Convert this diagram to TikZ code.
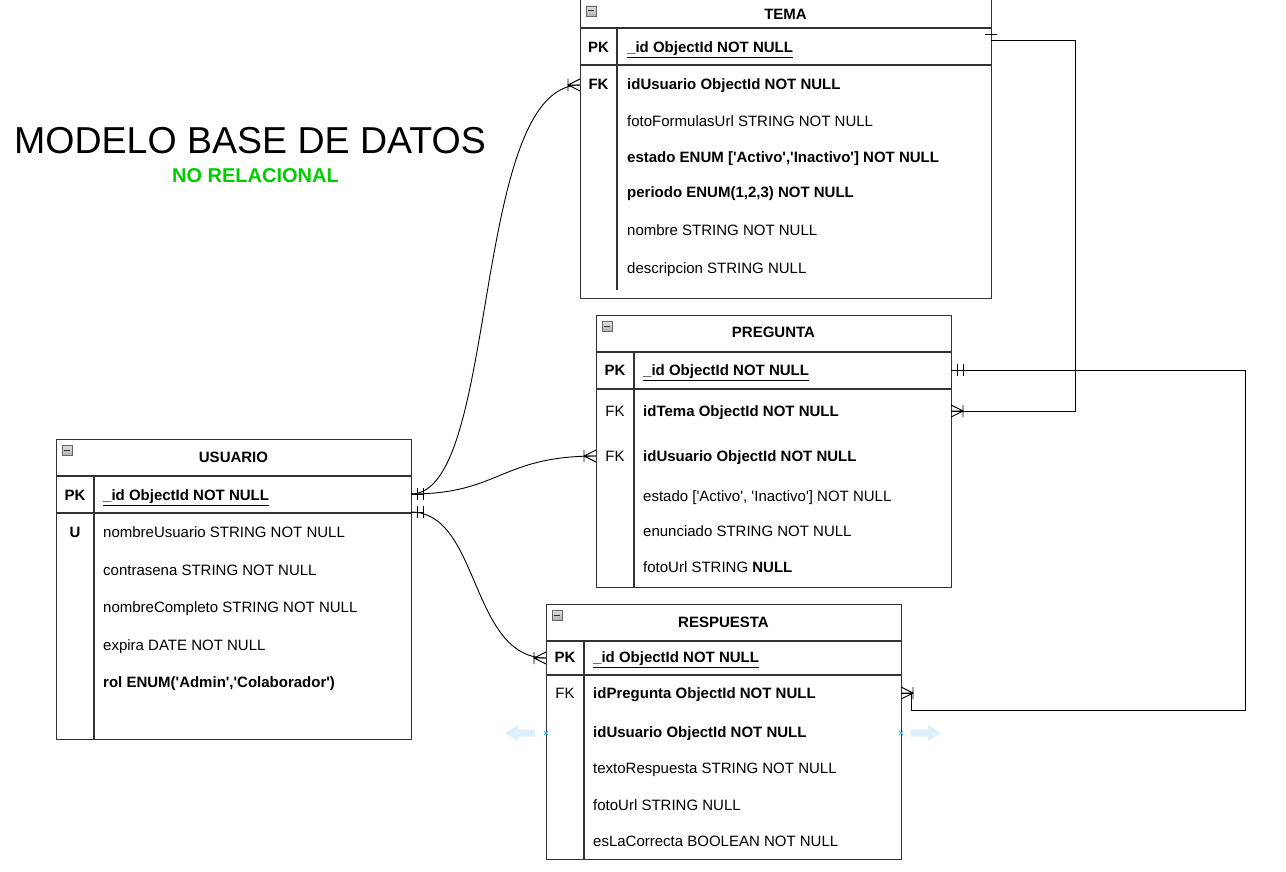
\documentclass[tikz,border=0pt]{standalone}
\usepackage{fontspec}
\setmainfont{Liberation Sans}
\setmonofont{Liberation Sans}
\newcommand\bodyfs{\ttfamily\fontsize{15}{17}\selectfont}
\definecolor{lineclr}{HTML}{333333}
\definecolor{greenclr}{HTML}{00CC00}
\definecolor{hintblue}{HTML}{DCEFFA}
\definecolor{xblue}{HTML}{29B6F2}
\tikzset{
  tbl/.style={draw=lineclr, line width=1.1pt, fill=white, inner sep=0pt, anchor=north west},
  sep/.style={draw=lineclr, line width=1.1pt},
  txt/.style={anchor=west, inner sep=0pt, text height=10.5pt, text depth=0pt, font=\bodyfs},
  keytxt/.style={anchor=center, inner sep=0pt, text height=10.5pt, text depth=0pt, font=\bodyfs},
  hdr/.style={anchor=center, inner sep=0pt, text height=10.5pt, text depth=0pt, font=\bodyfs\bfseries},
  conn/.style={draw=black, line width=0.9pt},
  crowfoot/.pic={\draw[black, line width=0.9pt] (0,-6)--(-12,0)--(0,6) (-12,-6)--(-12,6) (-12,0)--(0,0);},
  mone/.pic={\draw[black, line width=0.9pt] (-6,-6)--(-6,6) (-12,-6)--(-12,6) (-12,0)--(0,0);},
  collapse/.pic={\draw[draw=gray!80!black, top color=gray!25, bottom color=gray!60, line width=0.6pt] (0,0) rectangle (10,10);
                 \draw[black!80, line width=1pt] (2,5)--(8,5);}
}
\begin{document}
\begin{tikzpicture}[x=1pt,y=-1pt]
\useasboundingbox (0,0) rectangle (1286,872);
\fill[white] (0,0) rectangle (1286,872);

% Title
\node[inner sep=0pt, font=\fontsize{37.5}{42}\selectfont, anchor=center] (title) at (250,141) {MODELO BASE DE DATOS};
\node[inner sep=0pt, font=\fontsize{20}{23}\selectfont\bfseries, text=greenclr, anchor=center] (subtitle) at (255.5,176) {NO RELACIONAL};

% ===== TEMA =====
\node[tbl, minimum width=411pt, minimum height=299pt] (tema) at (580,-1) {};
\draw[sep] (580,28) -- (991,28) (580,65) -- (991,65) (617,28) -- (617,290);
\pic at (586,6) {collapse};
\node[hdr] (temaH) at (785.5,14) {TEMA};
\node[keytxt, font=\bodyfs\bfseries] (temaK1) at (598.5,47) {PK};
\node[txt, font=\bodyfs\bfseries] (temaR1) at (627,47) {\underline{\_id ObjectId NOT NULL}};
\node[keytxt, font=\bodyfs\bfseries] (temaK2) at (598.5,84) {FK};
\node[txt, font=\bodyfs\bfseries] (temaR2) at (627,84) {idUsuario ObjectId NOT NULL};
\node[txt] (temaR3) at (627,121) {fotoFormulasUrl STRING NOT NULL};
\node[txt, font=\bodyfs\bfseries] (temaR4) at (627,157) {estado ENUM ['Activo','Inactivo'] NOT NULL};
\node[txt, font=\bodyfs\bfseries] (temaR5) at (627,192) {periodo ENUM(1,2,3) NOT NULL};
\node[txt] (temaR6) at (627,230) {nombre STRING NOT NULL};
\node[txt] (temaR7) at (627,268) {descripcion STRING NULL};

% ===== PREGUNTA =====
\node[tbl, minimum width=355pt, minimum height=272pt] (preg) at (596,315) {};
\draw[sep] (596,352) -- (951,352) (596,389) -- (951,389) (634,352) -- (634,587);
\pic at (602,321) {collapse};
\node[hdr] (pregH) at (773.5,332) {PREGUNTA};
\node[keytxt, font=\bodyfs\bfseries] (pregK1) at (615,370) {PK};
\node[txt, font=\bodyfs\bfseries] (pregR1) at (643,370) {\underline{\_id ObjectId NOT NULL}};
\node[keytxt] (pregK2) at (615,411) {FK};
\node[txt, font=\bodyfs\bfseries] (pregR2) at (643,411) {idTema ObjectId NOT NULL};
\node[keytxt] (pregK3) at (615,456) {FK};
\node[txt, font=\bodyfs\bfseries] (pregR3) at (643,456) {idUsuario ObjectId NOT NULL};
\node[txt] (pregR4) at (643,496) {estado ['Activo', 'Inactivo'] NOT NULL};
\node[txt] (pregR5) at (643,531) {enunciado STRING NOT NULL};
\node[txt] (pregR6) at (643,567) {fotoUrl STRING \textbf{NULL}};

% ===== USUARIO =====
\node[tbl, minimum width=355pt, minimum height=300pt] (usu) at (56,439) {};
\draw[sep] (56,476) -- (411,476) (56,513) -- (411,513) (94,476) -- (94,739);
\pic at (62,445) {collapse};
\node[hdr] (usuH) at (233.5,457) {USUARIO};
\node[keytxt, font=\bodyfs\bfseries] (usuK1) at (75,495) {PK};
\node[txt, font=\bodyfs\bfseries] (usuR1) at (103,495) {\underline{\_id ObjectId NOT NULL}};
\node[keytxt, font=\bodyfs\bfseries] (usuK2) at (75,532) {U};
\node[txt] (usuR2) at (103,532) {nombreUsuario STRING NOT NULL};
\node[txt] (usuR3) at (103,570) {contrasena STRING NOT NULL};
\node[txt] (usuR4) at (103,607) {nombreCompleto STRING NOT NULL};
\node[txt] (usuR5) at (103,645) {expira DATE NOT NULL};
\node[txt, font=\bodyfs\bfseries] (usuR6) at (103,682) {rol ENUM('Admin','Colaborador')};

% ===== RESPUESTA =====
\node[tbl, minimum width=355pt, minimum height=255pt] (resp) at (546,604) {};
\draw[sep] (546,641) -- (901,641) (546,675) -- (901,675) (584,641) -- (584,859);
\pic at (552,610) {collapse};
\node[hdr] (respH) at (723.5,622) {RESPUESTA};
\node[keytxt, font=\bodyfs\bfseries] (respK1) at (565,657) {PK};
\node[txt, font=\bodyfs\bfseries] (respR1) at (593,657) {\underline{\_id ObjectId NOT NULL}};
\node[keytxt] (respK2) at (565,693) {FK};
\node[txt, font=\bodyfs\bfseries] (respR2) at (593,693) {idPregunta ObjectId NOT NULL};
\node[txt, font=\bodyfs\bfseries] (respR3) at (593,732) {idUsuario ObjectId NOT NULL};
\node[txt] (respR4) at (593,768) {textoRespuesta STRING NOT NULL};
\node[txt] (respR5) at (593,805) {fotoUrl STRING NULL};
\node[txt] (respR6) at (593,841) {esLaCorrecta BOOLEAN NOT NULL};

% ===== connection points =====
\coordinate (uA) at (411,494);
\coordinate (uB) at (411,512);
\coordinate (tFK) at (580,85);
\coordinate (tPK) at (991,40);
\coordinate (pPK) at (951,370);
\coordinate (pFK1) at (951,411);
\coordinate (pFK2) at (596,456);
\coordinate (rPK) at (546,658);
\coordinate (rFK) at (901,693);

% ===== connectors =====
\draw[conn] (uA) .. controls (500,494) and (470,85) .. (tFK);
\draw[conn] (uA) .. controls (500,494) and (500,456) .. (pFK2);
\draw[conn] (uB) .. controls (480,512) and (470,658) .. (rPK);
\draw[conn] (tPK) -- (1075,40) -- (1075,411) -- (pFK1);
\draw[conn] (pPK) -- (1245,370) -- (1245,710) -- (911,710) -- (911,693) -- (rFK);

% marks
\pic[xscale=-1] at (uA) {mone};
\pic[xscale=-1] at (uB) {mone};
\pic at (tFK) {crowfoot};
\pic at (pFK2) {crowfoot};
\pic at (rPK) {crowfoot};
\pic[xscale=-1] at (pPK) {mone};
\pic[xscale=-1] at (pFK1) {crowfoot};
\pic[xscale=-1] at (rFK) {crowfoot};
\draw[black, line width=0.9pt] (985,34) -- (997,34);

% hover hint arrows
\fill[hintblue] (505,733) -- (518,725) -- (518,729.5) -- (535,729.5) -- (535,736.5) -- (518,736.5) -- (518,741) -- cycle;
\fill[hintblue] (941,733) -- (928,725) -- (928,729.5) -- (911,729.5) -- (911,736.5) -- (928,736.5) -- (928,741) -- cycle;
\draw[xblue, line width=0.8pt] (544,731) -- (548,735) (544,735) -- (548,731);
\draw[xblue, line width=0.8pt] (899,731) -- (903,735) (899,735) -- (903,731);
\end{tikzpicture}
\end{document}
